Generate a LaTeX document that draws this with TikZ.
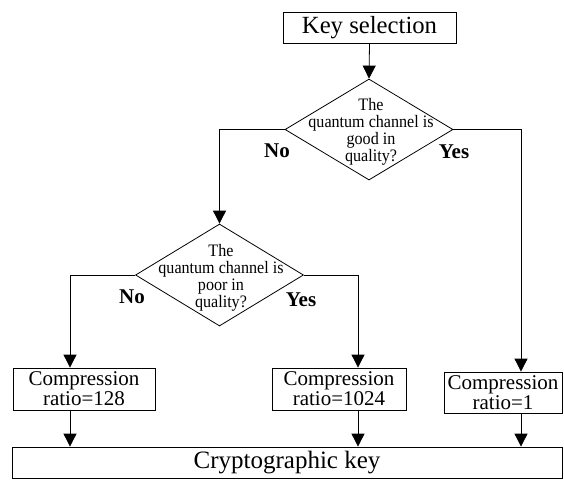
\documentclass[tikz,border=0pt]{standalone}
\usepackage{fontspec}
\setmainfont{Liberation Serif}
\newfontfamily\condserif[FakeStretch=0.92]{Liberation Serif}
\usetikzlibrary{shapes.geometric,arrows.meta,calc}
\tikzset{
  boxnode/.style={draw, line width=0.8pt, inner sep=0pt, align=center},
  dia/.style={draw, diamond, line width=0.8pt, inner sep=0pt},
  diatext/.style={align=center, inner sep=0pt, font=\condserif\fontsize{17.5}{17}\selectfont},
  boxtext/.style={font=\fontsize{21}{20}\selectfont},
  lbl/.style={inner sep=0pt, font=\fontsize{21}{21}\selectfont\bfseries},
  arr/.style={line width=0.8pt, -{Triangle[length=13pt,width=13pt]}},
  conn/.style={line width=0.8pt}
}
\begin{document}
\begin{tikzpicture}[x=1pt,y=-1pt]
\useasboundingbox (0,0) rectangle (564,483);
% nodes
\node[boxnode, minimum width=173pt, minimum height=31pt, font=\fontsize{24.7}{26}\selectfont] (ks) at (369.5,27.5) {Key selection};
\node[dia, minimum width=168pt, minimum height=101pt] (d1) at (369,129.5) {};
\node[diatext] (t1) at (371,132) {The\\quantum channel is\\good in\\quality?};
\node[dia, minimum width=168pt, minimum height=102pt] (d2) at (219.5,275) {};
\node[diatext] (t2) at (221,278) {The\\quantum channel is\\poor in\\quality?};
\node[boxnode, boxtext, minimum width=142pt, minimum height=42pt] (b128) at (84,389) {Compression\\ratio=128};
\node[boxnode, boxtext, minimum width=134pt, minimum height=42pt] (b1024) at (339,389) {Compression\\ratio=1024};
\node[boxnode, boxtext, minimum width=118pt, minimum height=41pt] (b1) at (503,392.5) {Compression\\ratio=1};
\node[boxnode, minimum width=550pt, minimum height=31pt, font=\fontsize{25}{26}\selectfont] (key) at (287,462.5) {Cryptographic key};
% labels
\node[lbl] (no1) at (277,151) {No};
\node[lbl] (yes1) at (454,152) {Yes};
\node[lbl] (no2) at (132,297) {No};
\node[lbl] (yes2) at (301,300) {Yes};
% connectors
\draw[arr] (ks.south) -- (d1.north);
\draw[arr] (d1.west) -| (d2.north);
\draw[arr] (d1.east) -| ([xshift=18pt]b1.north);
\draw[arr] (d2.west) -| ([xshift=-14pt]b128.north);
\draw[arr] (d2.east) -| ([xshift=19pt]b1024.north);
\draw[arr] ([xshift=-14pt]b128.south) -- ([xshift=-14pt]b128.south |- key.north);
\draw[arr] ([xshift=19pt]b1024.south) -- ([xshift=19pt]b1024.south |- key.north);
\draw[arr] ([xshift=18pt]b1.south) -- ([xshift=18pt]b1.south |- key.north);
\end{tikzpicture}
\end{document}
